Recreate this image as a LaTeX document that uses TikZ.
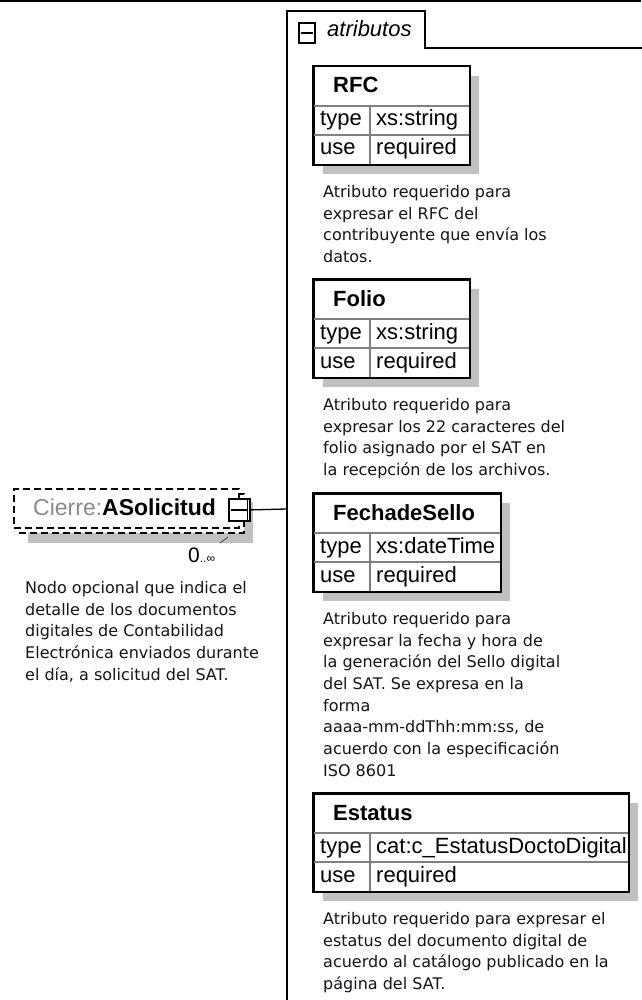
\documentclass[tikz,border=0pt]{standalone}
\usepackage{fontspec}
\setmainfont{DejaVu Sans}
\newfontfamily\arialf{Liberation Sans}
\definecolor{shadowgray}{RGB}{192,192,192}
\definecolor{namegray}{RGB}{138,138,138}
\definecolor{gridgray}{RGB}{128,128,128}
\definecolor{desctext}{RGB}{20,20,30}
\newcommand\attrbox[6]{% name, top, width, header, type, use
  \fill[shadowgray] (323,{#2+10}) rectangle ++(#3,98);
  \node[abox, minimum width=#3pt, minimum height=98pt] (#1) at (313,#2) {};
  \draw[gridln] (313,{#2+40}) -- ++(#3,0);
  \draw[gridln] (313,{#2+69}) -- ++(#3,0);
  \draw[gridln] (370,{#2+40}) -- (370,{#2+98});
  \draw[line width=1.5pt] (#1.north west) rectangle (#1.south east);
  \node[tbl, font=\arialf\bfseries\fontsize{22}{26}\selectfont] (#1-name) at (333,{#2+27}) {#4};
  \node[tbl] (#1-tk) at (320,{#2+60}) {type};
  \node[tbl] (#1-tv) at (376,{#2+60}) {#5};
  \node[tbl] (#1-uk) at (320,{#2+89}) {use};
  \node[tbl] (#1-uv) at (376,{#2+89}) {#6};
}
\begin{document}
\begin{tikzpicture}[x=1pt,y=-1pt,
  abox/.style={draw, line width=1.5pt, fill=white, inner sep=0pt, anchor=north west},
  gridln/.style={draw=gridgray, line width=1.2pt},
  tbl/.style={font=\arialf\fontsize{22}{26}\selectfont, inner sep=0pt, anchor=base west},
  desc/.style={font=\fontsize{16}{21.7}\selectfont, text=desctext, align=left, inner sep=0pt, anchor=north west},
  dframe/.style={draw, dash pattern=on 7pt off 4pt, line width=1.5pt, fill=white, inner sep=0pt, anchor=north west, minimum width=225pt, minimum height=39pt},
  btnbox/.style={draw, line width=1.8pt, fill=white, inner sep=0pt, anchor=north west}]
\useasboundingbox (0,0) rectangle (641,1000);
\fill[white] (0,0) rectangle (641,1000);
% top rule
\draw[line width=2pt] (0,1) -- (641,1);
% group frame with tab
\coordinate (gbot) at (287,1002);
\coordinate (gtl) at (287,11);
\coordinate (gtr) at (425,11);
\coordinate (gtb) at (425,48);
\coordinate (gend) at (643,48);
\coordinate (grp) at (287,509);
\draw[line width=1.5pt] (gbot) -- (gtl) -- (gtr) -- (gtb) -- (gend);
\node[btnbox, minimum width=16pt, minimum height=20pt] (tabbtn) at (298,22) {};
\draw[line width=1.6pt] ([xshift=3pt]tabbtn.west) -- ([xshift=-3pt]tabbtn.east);
\node[font=\arialf\itshape\fontsize{22}{26}\selectfont, inner sep=0pt, anchor=base west] (tablabel) at (327,37) {atributos};
% attribute boxes
\attrbox{rfc}{66}{156}{RFC}{xs:string}{required}
\node[desc] (rfcd) at (323,185) {Atributo requerido para\\expresar el RFC del\\contribuyente que envía los\\datos.};
\attrbox{folio}{279}{156}{Folio}{xs:string}{required}
\node[desc] (foliod) at (323,398) {Atributo requerido para\\expresar los 22 caracteres del\\folio asignado por el SAT en\\la recepción de los archivos.};
\attrbox{fecha}{493}{187}{FechadeSello}{xs:dateTime}{required}
\node[desc] (fechad) at (323,612) {Atributo requerido para\\expresar la fecha y hora de\\la generación del Sello digital\\del SAT. Se expresa en la\\forma\\aaaa-mm-ddThh:mm:ss, de\\acuerdo con la especificación\\ISO 8601};
\attrbox{estatus}{793}{315}{Estatus}{cat:c\_EstatusDoctoDigital}{required}
\node[desc] (estatusd) at (323,912) {Atributo requerido para expresar el\\estatus del documento digital de\\acuerdo al catálogo publicado en la\\página del SAT.};
% element node
\fill[shadowgray] (28,502) rectangle (253,543);
\draw[gridgray!70!black, line width=1pt] (220,543) -- (228,537);
\node[dframe] (back) at (18,493) {};
\node[dframe] (front) at (13,488) {};
\node[font=\arialf\fontsize{23}{26}\selectfont, inner sep=0pt, anchor=base west] (elname) at (33,515) {\textcolor{namegray}{Cierre:}\textbf{ASolicitud}};
\node[btnbox, minimum width=21pt, minimum height=22pt] (btn) at (228,498) {};
\draw[line width=1.5pt] ([xshift=3pt]btn.west) -- ([xshift=-4pt]btn.east);
\draw[line width=1.2pt] ([xshift=-3.5pt]btn.north east) -- ([xshift=-3.5pt]btn.south east);
\draw[line width=1.3pt] (btn.east) -- (grp);
\node[font=\arialf\fontsize{21}{24}\selectfont, inner sep=0pt, anchor=base west] (mult) at (188,562) {0{\fontsize{12}{14}\selectfont..\char"221E}};
\node[desc] (eld) at (25,581) {Nodo opcional que indica el\\detalle de los documentos\\digitales de Contabilidad\\Electrónica enviados durante\\el día, a solicitud del SAT.};
\end{tikzpicture}
\end{document}
